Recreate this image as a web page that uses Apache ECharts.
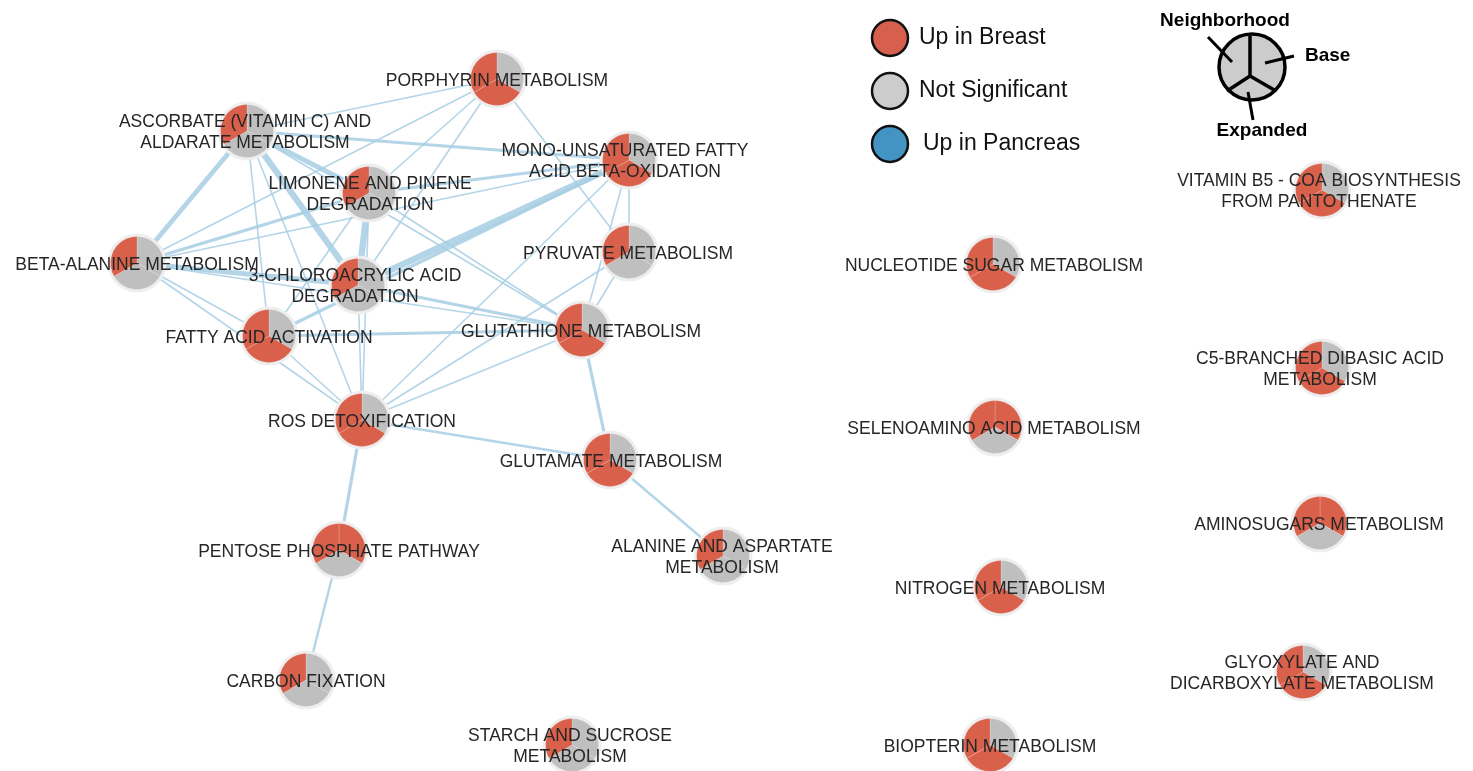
<!DOCTYPE html>
<html>
<head>
<meta charset="utf-8">
<script src="https://cdn.jsdelivr.net/npm/echarts@6/dist/echarts.min.js"></script>
<style>
html, body { margin: 0; padding: 0; background: #fff; }
#main { width: 1473px; height: 771px; }
</style>
</head>
<body>
<div id="main"></div>
<script>
// pathway nodes
var names = [
	'PORPHYRIN METABOLISM',
	'ASCORBATE (VITAMIN C) AND\nALDARATE METABOLISM',
	'LIMONENE AND PINENE\nDEGRADATION',
	'MONO-UNSATURATED FATTY\nACID BETA-OXIDATION',
	'BETA-ALANINE METABOLISM',
	'3-CHLOROACRYLIC ACID\nDEGRADATION',
	'FATTY ACID ACTIVATION',
	'PYRUVATE METABOLISM',
	'GLUTATHIONE METABOLISM',
	'ROS DETOXIFICATION',
	'GLUTAMATE METABOLISM',
	'PENTOSE PHOSPHATE PATHWAY',
	'ALANINE AND ASPARTATE\nMETABOLISM',
	'CARBON FIXATION',
	'STARCH AND SUCROSE\nMETABOLISM',
	'NUCLEOTIDE SUGAR METABOLISM',
	'SELENOAMINO ACID METABOLISM',
	'NITROGEN METABOLISM',
	'BIOPTERIN METABOLISM',
	'VITAMIN B5 - COA BIOSYNTHESIS\nFROM PANTOTHENATE',
	'C5-BRANCHED DIBASIC ACID\nMETABOLISM',
	'AMINOSUGARS METABOLISM',
	'GLYOXYLATE AND\nDICARBOXYLATE METABOLISM'
];
// layout position of each node (network layout, pixels)
var nodeX = [497, 247, 369, 629, 137, 358, 269, 629, 582, 362, 610, 339, 723, 306, 572, 993, 995, 1001, 990, 1322, 1322, 1320, 1303];
var nodeY = [79, 131, 193, 160, 263, 285, 336, 252, 330, 420, 460, 550, 556, 680, 745, 264, 427, 587, 745, 190, 368, 523, 672];
// label centre x (labels are centred close to node)
var labelX = [497, 245, 370, 625, 137, 355, 269, 628, 581, 362, 611, 339, 722, 306, 570, 994, 994, 1000, 990, 1319, 1320, 1319, 1302];

// 1 = up in breast, 0 = not significant
var baseSig =     [0, 0, 0, 0, 0, 0, 0, 0, 0, 0, 0, 1, 0, 0, 0, 0, 1, 0, 0, 0, 0, 1, 0];
var expandedSig = [1, 0, 0, 1, 0, 0, 1, 0, 1, 1, 1, 0, 0, 0, 0, 1, 0, 1, 1, 1, 1, 0, 1];
var neighborSig = [1, 1, 1, 1, 1, 1, 1, 1, 1, 1, 1, 1, 1, 1, 1, 1, 1, 1, 1, 1, 1, 1, 1];

// similarity edges (weight 1..4)
var edgeFrom =   [1, 1, 1, 1, 1, 1, 1, 1, 0, 0, 0, 0, 3, 3, 3, 3, 3, 3, 3, 2, 2, 2, 2, 2, 4, 4, 4, 4, 5, 5, 6, 6, 8, 7, 7, 8, 9, 9, 11, 10];
var edgeTo =     [0, 3, 2, 5, 4, 6, 9, 8, 2, 4, 5, 7, 2, 4, 5, 6, 7, 8, 9, 4, 5, 6, 9, 8, 5, 6, 9, 8, 9, 8, 8, 9, 9, 9, 8, 10, 10, 11, 13, 12];
var edgeWeight = [1, 2, 3, 4, 3, 1, 1, 1, 1, 1, 1, 1, 2, 1, 4, 2, 1, 1, 1, 2, 4, 1, 1, 1, 3, 1, 1, 1, 1, 2, 2, 1, 1, 1, 1, 2, 1.5, 2, 1.5, 1.5];

var legendLabels = ['Up in Breast', 'Not Significant', 'Up in Pancreas'];
var legendColors = ['#d6604d', '#cccccc', '#4393c3'];
var pieLegendLabels = ['Neighborhood', 'Base', 'Expanded'];

var RED = '#d9604b', GREY = '#bfbfbf';
var FONT = '"Liberation Sans", Arial, Helvetica, sans-serif';

var myChart = echarts.init(document.getElementById('main'));

var graphNodes = names.map(function (n, i) {
	return { name: String(i), value: [nodeX[i], nodeY[i]] };
});
var graphLinks = edgeFrom.map(function (s, i) {
	return {
		source: String(s),
		target: String(edgeTo[i]),
		lineStyle: { width: edgeWeight[i] * 1.6 }
	};
});
var pieData = names.map(function (n, i) {
	return [nodeX[i], nodeY[i], i];
});

var graphic = [];
legendLabels.forEach(function (t, i) {
	var cy = 38 + i * 53;
	graphic.push({
		type: 'circle', shape: { cx: 890, cy: cy, r: 18 },
		style: { fill: legendColors[i], stroke: '#111', lineWidth: 2.5 }
	});
	graphic.push({
		type: 'text', x: i == 2 ? 923 : 919, y: cy,
		style: { text: t, fill: '#111', fontSize: 23, fontFamily: FONT, verticalAlign: 'middle' }
	});
});
// pie layout key
graphic.push({
	type: 'circle', shape: { cx: 1252, cy: 67, r: 33 },
	style: { fill: '#cccccc', stroke: '#000', lineWidth: 3.5 }
});
[[1250, 36], [1227, 91], [1276, 91]].forEach(function (e) {
	graphic.push({
		type: 'line', shape: { x1: 1250, y1: 76, x2: e[0], y2: e[1] },
		style: { stroke: '#000', lineWidth: 3.5 }
	});
});
[[1208, 37, 1232, 62], [1265, 63, 1294, 56], [1248, 92, 1253, 120]].forEach(function (l) {
	graphic.push({
		type: 'line', shape: { x1: l[0], y1: l[1], x2: l[2], y2: l[3] },
		style: { stroke: '#000', lineWidth: 3 }
	});
});
[[1225, 21, 'center'], [1305, 56, 'left'], [1262, 131, 'center']].forEach(function (p, i) {
	graphic.push({
		type: 'text', x: p[0], y: p[1],
		style: { text: pieLegendLabels[i], fill: '#000', fontSize: 19, fontWeight: 'bold', fontFamily: FONT, align: p[2], verticalAlign: 'middle' }
	});
});

var option = {
	backgroundColor: '#ffffff',
	animation: false,
	grid: { left: 0, right: 0, top: 0, bottom: 0 },
	xAxis: { type: 'value', min: 0, max: 1473, show: false },
	yAxis: { type: 'value', min: 0, max: 771, inverse: true, show: false },
	graphic: graphic,
	series: [{
		type: 'graph',
		coordinateSystem: 'cartesian2d',
		silent: true,
		symbolSize: 1,
		itemStyle: { opacity: 0 },
		label: { show: false },
		lineStyle: { color: '#a6cee3', opacity: 0.85, curveness: 0 },
		data: graphNodes,
		links: graphLinks,
		z: 1
	}, {
		type: 'custom',
		coordinateSystem: 'cartesian2d',
		silent: true,
		z: 2,
		data: pieData,
		renderItem: function (params, api) {
			var i = api.value(2);
			var p = api.coord([api.value(0), api.value(1)]);
			var r = 26.5;
			var states = [baseSig[i], expandedSig[i], neighborSig[i]];
			var children = [{
				type: 'circle', shape: { cx: p[0], cy: p[1], r: r + 3 },
				style: { fill: '#eeeeee' }, z2: 1
			}];
			for (var k = 0; k < 3; k++) {
				children.push({
					type: 'sector',
					shape: {
						cx: p[0], cy: p[1], r0: 0, r: r,
						startAngle: -Math.PI / 2 + k * 2 * Math.PI / 3,
						endAngle: -Math.PI / 2 + (k + 1) * 2 * Math.PI / 3,
						clockwise: true
					},
					style: { fill: states[k] ? RED : GREY, stroke: 'rgba(255,255,255,0.3)', lineWidth: 0.6 },
					z2: 2
				});
			}
			children.push({
				type: 'text', x: labelX[i], y: p[1] + 2, z2: 10,
				style: {
					text: names[i], fill: '#262626', fontSize: 17.5, fontFamily: FONT,
					align: 'center', verticalAlign: 'middle', lineHeight: 21
				}
			});
			return { type: 'group', children: children };
		}
	}]
};
myChart.setOption(option);
</script>
</body>
</html>
